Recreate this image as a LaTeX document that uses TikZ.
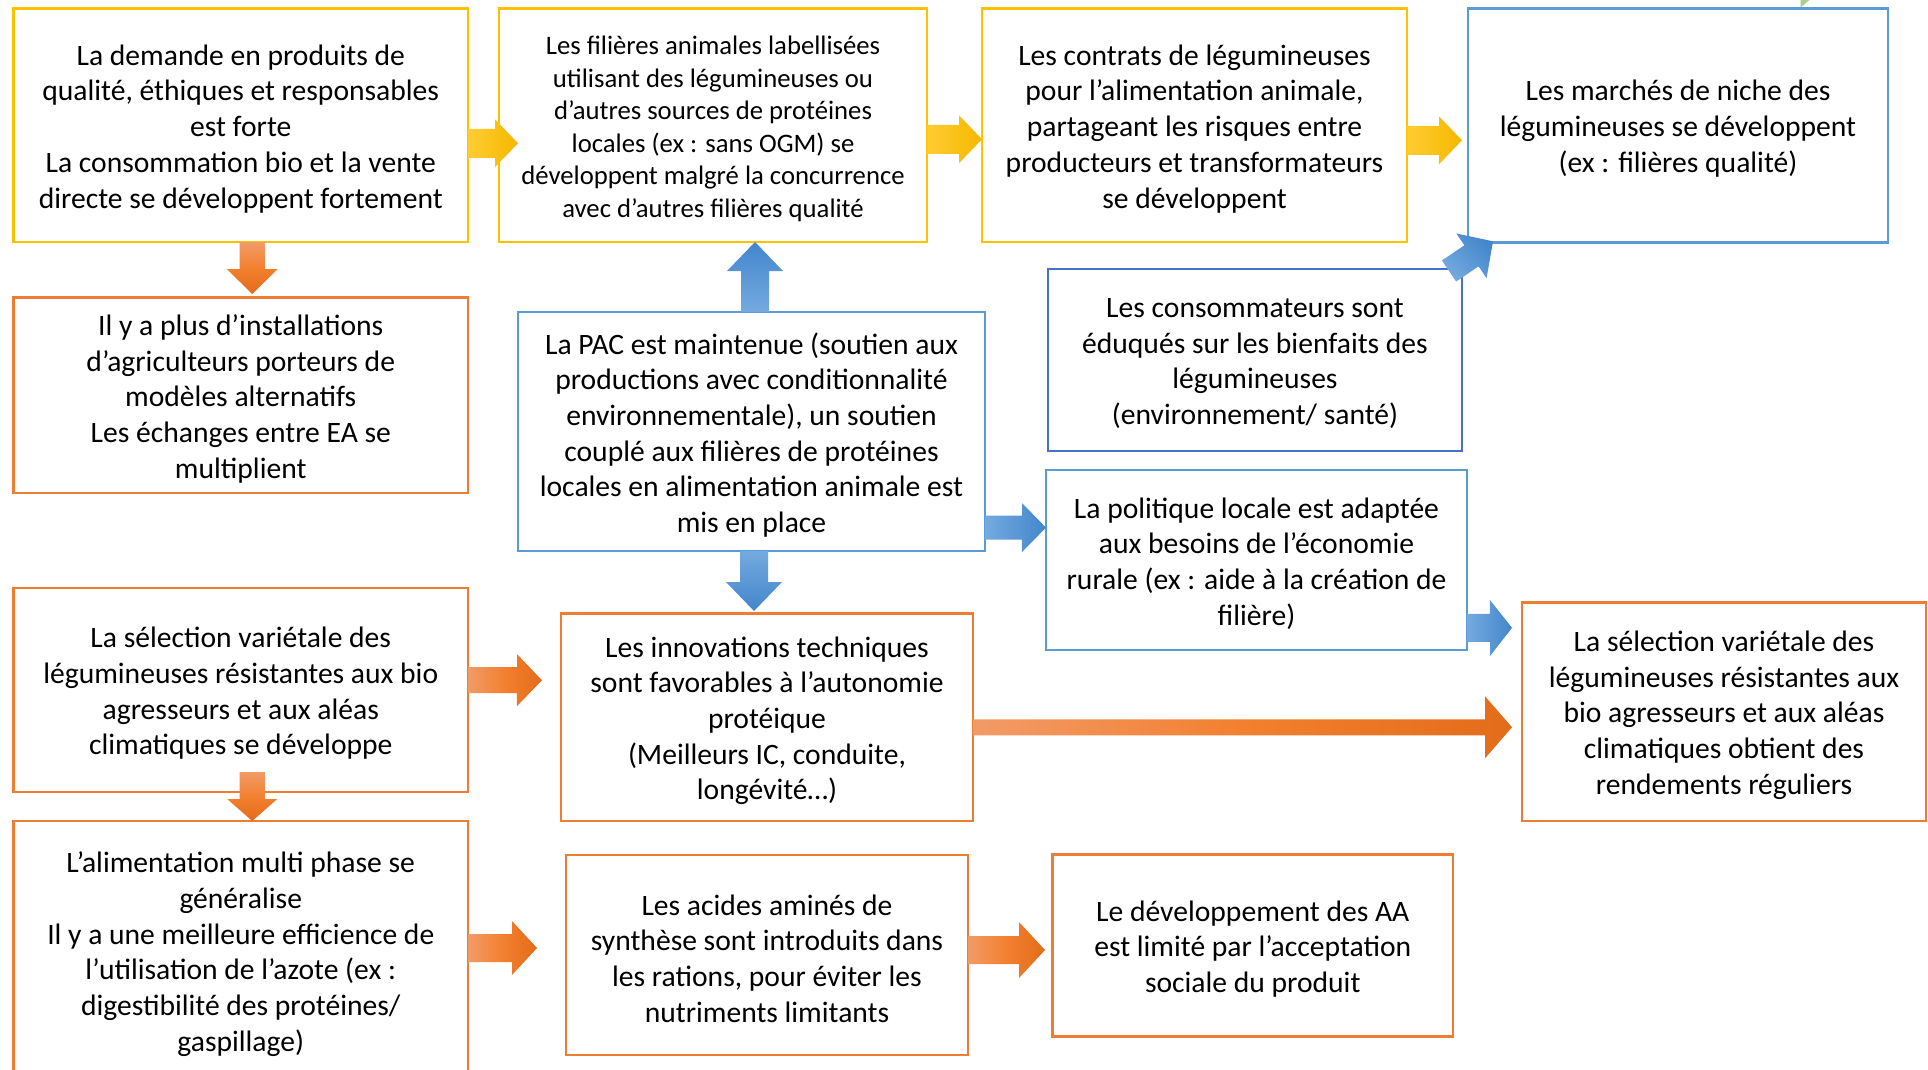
\documentclass[tikz,border=0pt]{standalone}
\usepackage{fontspec}
\setmainfont{Carlito}
\usetikzlibrary{calc}
\definecolor{yel}{HTML}{FFC000}
\definecolor{ora}{HTML}{ED7D31}
\definecolor{blu}{HTML}{5B9BD5}
\definecolor{dblu}{HTML}{4472C4}
\definecolor{ylight}{HTML}{FFCC33}
\definecolor{ydark}{HTML}{F5B800}
\definecolor{olight}{HTML}{F29B67}
\definecolor{omid}{HTML}{F2802F}
\definecolor{odark}{HTML}{E36C1A}
\definecolor{blight}{HTML}{74AADF}
\definecolor{bdark}{HTML}{4386CC}
\definecolor{lgreen}{HTML}{A9D18E}
\newcommand\blockarrow[6]{%
  \coordinate (ba-t) at #1;
  \coordinate (ba-h) at #2;
  \coordinate (ba-n) at ($(ba-h)!#5!(ba-t)$);
  \path[#6] ($(ba-t)!#3!90:(ba-h)$) -- ($(ba-n)!#3!90:(ba-h)$) -- ($(ba-n)!#4!90:(ba-h)$) -- (ba-h) -- ($(ba-n)!#4!-90:(ba-h)$) -- ($(ba-n)!#3!-90:(ba-h)$) -- ($(ba-t)!#3!-90:(ba-h)$) -- cycle;
}
\tikzset{
  box/.style={draw, line width=2.5pt, inner sep=0pt, outer sep=0pt},
  boxtext/.style={align=center, text=black, inner sep=0pt, yshift=-3.5pt,
    font=\fontsize{29.6}{35.7}\selectfont},
  smalltext/.style={boxtext, font=\fontsize{26.7}{32.5}\selectfont},
  txt/.style={label={[boxtext]center:{#1}}},
  stxt/.style={label={[smalltext]center:{#1}}},
  ybox/.style={box, draw=yel},
  obox/.style={box, draw=ora},
  bbox/.style={box, draw=blu},
  dbox/.style={box, draw=dblu},
  yright/.style={left color=ylight, right color=ydark},
  oright/.style={left color=olight, right color=odark, middle color=omid},
  odown/.style={top color=olight, bottom color=odark, middle color=omid},
  bright/.style={left color=blight, right color=bdark},
  bdown/.style={top color=blight, bottom color=bdark},
  bup/.style={bottom color=blight, top color=bdark},
  bdiag/.style={top color=blight, bottom color=bdark, shading angle=135},
}
\begin{document}
\begin{tikzpicture}[x=1pt,y=-1pt]
\useasboundingbox (0,0) rectangle (1928,1069);
\fill[white] (0,0) rectangle (1928,1069);
\clip (0,0) rectangle (1928,1069);
\fill[lgreen] (1800.7,0) -- (1809.3,0) -- (1800.7,7.5) -- cycle;

\node[ybox, minimum width=454.5pt, minimum height=233.5pt,
 txt={La demande en produits de\\qualité, éthiques et responsables\\est forte\\La consommation bio et la vente\\directe se développent fortement}] (A) at (240.75,125.25) {};
\node[ybox, minimum width=428pt, minimum height=233.5pt,
 stxt={Les filières animales labellisées\\utilisant des légumineuses ou\\d’autres sources de protéines\\locales (ex : sans OGM) se\\développent malgré la concurrence\\avec d’autres filières qualité}] (B) at (713,125.25) {};
\node[ybox, minimum width=425pt, minimum height=233.5pt,
 txt={Les contrats de légumineuses\\pour l’alimentation animale,\\partageant les risques entre\\producteurs et transformateurs\\se développent}] (C) at (1194.5,125.25) {};
\node[bbox, minimum width=420pt, minimum height=234pt,
 txt={Les marchés de niche des\\légumineuses se développent\\(ex : filières qualité)}] (D) at (1678,125.3) {};
\node[obox, minimum width=454.5pt, minimum height=195.5pt,
 txt={Il y a plus d’installations\\d’agriculteurs porteurs de\\modèles alternatifs\\Les échanges entre EA se\\multiplient}] (E) at (240.75,395.25) {};
\node[bbox, minimum width=467pt, minimum height=239pt,
 txt={La PAC est maintenue (soutien aux\\productions avec conditionnalité\\environnementale), un soutien\\couplé aux filières de protéines\\locales en alimentation animale est\\mis en place}] (F) at (751.5,431.5) {};
\node[dbox, minimum width=414pt, minimum height=182pt,
 txt={Les consommateurs sont\\éduqués sur les bienfaits des\\légumineuses\\(environnement/ santé)}] (G) at (1255,360) {};
\node[bbox, minimum width=421pt, minimum height=180pt,
 txt={La politique locale est adaptée\\aux besoins de l’économie\\rurale (ex : aide à la création de\\filière)}] (H) at (1256.5,560) {};
\node[obox, minimum width=454.5pt, minimum height=204pt,
 txt={La sélection variétale des\\légumineuses résistantes aux bio\\agresseurs et aux aléas\\climatiques se développe}] (I) at (240.75,690) {};
\node[obox, minimum width=412pt, minimum height=207.5pt,
 txt={Les innovations techniques\\sont favorables à l’autonomie\\protéique\\(Meilleurs IC, conduite,\\longévité…)}] (J) at (767,717.25) {};
\node[obox, minimum width=404pt, minimum height=218.5pt,
 txt={La sélection variétale des\\légumineuses résistantes aux\\bio agresseurs et aux aléas\\climatiques obtient des\\rendements réguliers}] (K) at (1724,711.75) {};
\node[obox, minimum width=454.5pt, minimum height=259pt,
 txt={L’alimentation multi phase se\\généralise\\Il y a une meilleure efficience de\\l’utilisation de l’azote (ex :\\digestibilité des protéines/\\gaspillage)}] (L) at (240.75,950.5) {};
\node[obox, minimum width=402pt, minimum height=200pt,
 txt={Les acides aminés de\\synthèse sont introduits dans\\les rations, pour éviter les\\nutriments limitants}] (M) at (767,955) {};
\node[obox, minimum width=400.5pt, minimum height=182pt,
 txt={Le développement des AA\\est limité par l’acceptation\\sociale du produit}] (N) at (1252.75,945.5) {};

% yellow arrows
\blockarrow{($(A.east)+(0,18)$)}{($(B.west)+(19,18)$)}{14.5pt}{24pt}{23pt}{yright}
\blockarrow{($(B.east)+(0,14)$)}{($(C.west)+(0,14)$)}{14.5pt}{24pt}{23pt}{yright}
\blockarrow{($(C.east)+(0,15)$)}{($(D.west)+(-6,15)$)}{14.5pt}{24pt}{23pt}{yright}
% orange arrows
\blockarrow{($(A.south)+(11.5,0)$)}{($(E.north)+(11.5,-3.5)$)}{12.7pt}{25.5pt}{25pt}{odown}
\blockarrow{($(I.south)+(11.5,-20)$)}{($(L.north)+(11.5,0)$)}{12.7pt}{25pt}{22pt}{odown}
\blockarrow{($(I.east)+(0,-10)$)}{($(J.west)+(-19,-37)$)}{13pt}{26pt}{25pt}{oright}
\blockarrow{($(J.east)+(0,10)$)}{($(K.west)+(-10,15.5)$)}{8pt}{31pt}{27pt}{oright}
\blockarrow{($(L.east)+(0,-2.5)$)}{($(M.west)+(-29,-7)$)}{14pt}{27pt}{25pt}{oright}
\blockarrow{($(M.east)+(0,-5)$)}{($(N.west)+(-7.5,4.5)$)}{14pt}{28pt}{26pt}{oright}
% blue arrows
\blockarrow{($(F.north)+(3.5,0)$)}{($(B.south)+(42,0)$)}{14pt}{28pt}{29pt}{bup}
\blockarrow{($(F.south)+(2.5,0)$)}{($(J.north)+(-13,-2.5)$)}{14pt}{28pt}{29pt}{bdown}
\blockarrow{($(F.east)+(0,96)$)}{($(H.west)+(0,-32.4)$)}{12pt}{24.5pt}{24pt}{bright}
\blockarrow{($(H.east)+(0,68)$)}{($(K.west)+(-10,-84)$)}{14pt}{28pt}{22pt}{bright}
\blockarrow{($(G.north east)+(-13,2)$)}{($(D.south west)+(25,-1)$)}{12.7pt}{27pt}{26pt}{bdiag}
\end{tikzpicture}
\end{document}
